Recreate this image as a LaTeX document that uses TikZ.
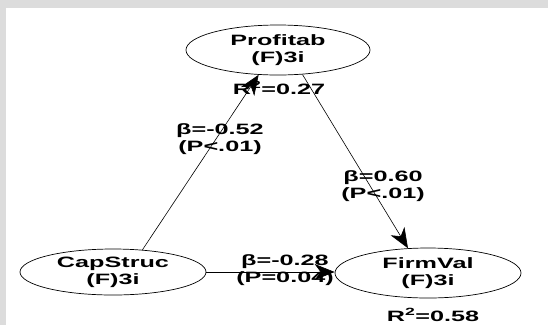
\documentclass[tikz,border=0pt]{standalone}
\usepackage{fontspec}
\setmainfont{Liberation Sans}[FakeStretch=1.68]
\usetikzlibrary{shapes.geometric,arrows.meta}
\definecolor{band}{HTML}{DCDCDC}
\begin{document}
\begin{tikzpicture}[x=1pt,y=-1pt,
  lv/.style={ellipse,draw,line width=0.7pt,fill=white,inner sep=0pt,align=center,
    font=\fontsize{15}{17}\selectfont\bfseries},
  lab/.style={align=center,inner sep=0pt,font=\fontsize{15}{17}\selectfont\bfseries},
  conn/.style={line width=0.6pt,-{Stealth[length=20pt,width=16pt,inset=6pt]}}]
\useasboundingbox (0,0) rectangle (548,325);
\fill[white] (0,0) rectangle (548,325);
\fill[band] (0,0) rectangle (548,8);
\fill[band] (0,0) rectangle (6,325);
\node[lv,minimum width=184pt,minimum height=50pt] (prof) at (278,50) {Profitab\\(F)3i};
\node[lv,minimum width=186pt,minimum height=46pt] (cap) at (113,272) {CapStruc\\(F)3i};
\node[lv,minimum width=186pt,minimum height=50pt] (firm) at (428,273) {FirmVal\\(F)3i};
\draw[conn] (cap.37) -- (prof.232);
\draw[conn] (prof.-45) -- (firm.129);
\draw[conn] (cap.east) -- (cap.east -| firm.west);
\node[lab] (r1) at (279,88) {R\textsuperscript{2}=0.27};
\node[lab] (r2) at (433,315) {R\textsuperscript{2}=0.58};
\node[lab] (b1) at (220,139) {β=-0.52\\(P<.01)};
\node[lab] (b2) at (383,186) {β=0.60\\(P<.01)};
\node[lab] (b3) at (285,270) {β=-0.28\\(P=0.04)};
\end{tikzpicture}
\end{document}
